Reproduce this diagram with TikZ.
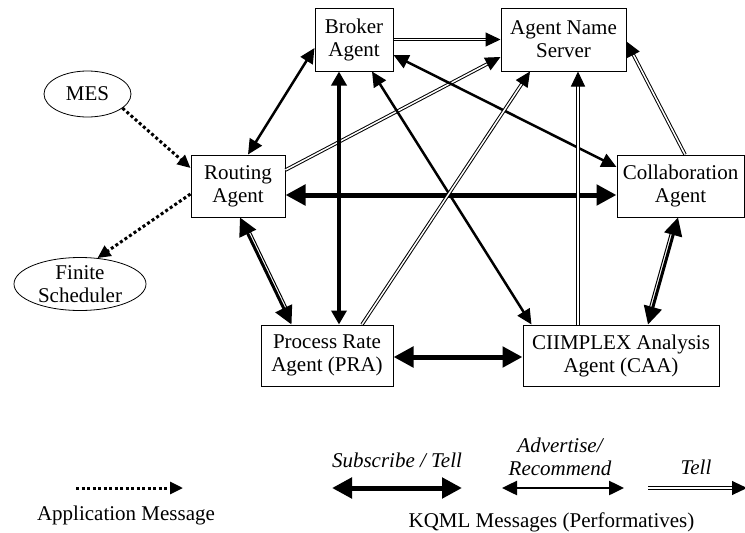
\documentclass[tikz,border=0pt]{standalone}
\usepackage{fontspec}
\setmainfont{Liberation Serif}
\usetikzlibrary{arrows.meta,calc,shapes.geometric}
\begin{document}
\begin{tikzpicture}[x=1pt,y=-1pt,
  txt/.style={font=\fontsize{21}{23}\selectfont},
  box/.style={txt,draw,line width=1pt,inner sep=0pt,align=center},
  oval/.style={txt,draw,ellipse,line width=0.8pt,inner xsep=0pt,inner ysep=-3pt,align=center},
  sub/.style={line width=5pt,{Triangle[length=20pt,width=20pt]}-{Triangle[length=20pt,width=20pt]}},
  adv/.style={line width=2.5pt,{Triangle[length=15pt,width=14pt]}-{Triangle[length=15pt,width=14pt]}},
  med/.style={line width=3.5pt,{Triangle[length=14pt,width=15pt]}-{Triangle[length=14pt,width=15pt]}},
  big/.style={line width=3pt,{Triangle[length=18pt,width=18pt]}-{Triangle[length=18pt,width=18pt]}},
  thinside/.style={line width=1pt,shorten <=14pt,shorten >=14pt},
  tell/.style={double,line width=1pt,double distance=1.5pt,-{Triangle[length=15pt,width=14pt]}},
  app/.style={line width=3pt,dash pattern=on 3pt off 2.5pt,-{Triangle[length=13pt,width=12pt]}},
  lbl/.style={txt,align=center,inner sep=0pt}
]
\useasboundingbox (0,0) rectangle (745,533);

% nodes
\node[box,minimum width=78pt,minimum height=63pt] (broker) at (354,39.5) {Broker\\Agent};
\node[box,minimum width=125pt,minimum height=63pt] (ans) at (563.5,39.5) {Agent Name\\Server};
\node[box,minimum width=94pt,minimum height=62pt] (routing) at (238,186) {Routing\\Agent};
\node[box,minimum width=127pt,minimum height=62pt] (collab) at (680.5,186) {Collaboration\\Agent};
\node[box,minimum width=132pt,minimum height=61pt] (pra) at (327,355.5) {Process Rate\\Agent (PRA)};
\node[box,minimum width=196pt,minimum height=61pt] (caa) at (621,355.5) {CIIMPLEX Analysis\\Agent (CAA)};
\node[oval,minimum width=87pt,minimum height=46pt] (mes) at (87.5,94) {MES};
\node[oval,minimum width=132pt,minimum height=53pt] (fs) at (80,284) {Finite\\Scheduler};

% application messages
\draw[app] (mes.-22) -- ($(routing.west)+(0,-18)$);
\draw[app] ($(routing.west)+(0,8)$) -- (fs.56);

% KQML messages
\draw[adv] ($(routing.north)+(10,0)$) -- ($(broker.west)+(0,8.5)$);
\draw[tell] (broker.east) -- (ans.west);
\draw[tell] ($(routing.east)+(0,-16)$) -- ($(ans.west)+(0,17.5)$);
\draw[sub] ($(routing.east)+(0,9)$) -- ($(collab.west)+(0,9)$);
\draw[med] ($(broker.south)+(-15,0)$) -- ($(pra.north)+(12,0)$);
\draw[adv] ($(broker.south)+(18,0)$) -- ($(caa.north west)+(9,0)$);
\draw[adv] ($(broker.east)+(0,15.5)$) -- ($(collab.west)+(0,-19)$);
\draw[tell] ($(pra.north)+(35,0)$) -- ($(ans.south)+(-33.5,0)$);
\draw[tell] ($(caa.north)+(-43,0)$) -- ($(ans.south)+(14.5,0)$);
\draw[tell] ($(collab.north)+(4.5,0)$) -- ($(ans.east)+(0,2)$);
\draw[sub] ($(pra.east)+(0,1.5)$) -- ($(caa.west)+(0,1.5)$);

% routing <-> PRA (combined)
\coordinate (rp1) at ($(routing.south)+(2,0)$);
\coordinate (rp2) at ($(pra.north west)+(31,0)$);
\draw[big] (rp1) -- (rp2);
\draw[thinside] ($(rp1)!3.2pt!90:(rp2)$) -- ($(rp2)!3.2pt!-90:(rp1)$);

% collaboration <-> CAA (combined)
\coordinate (cc1) at ($(collab.south)+(-2.5,0)$);
\coordinate (cc2) at ($(caa.north)+(27,0)$);
\draw[big] (cc1) -- (cc2);
\draw[thinside] ($(cc1)!3.2pt!-90:(cc2)$) -- ($(cc2)!3.2pt!90:(cc1)$);

% legend
\coordinate (la1) at (76,488);  \coordinate (la2) at (183,488);
\coordinate (ls1) at (332,488); \coordinate (ls2) at (462,488);
\coordinate (lv1) at (502,488); \coordinate (lv2) at (624,488);
\coordinate (lt1) at (648,488); \coordinate (lt2) at (747,488);
\draw[app] (la1) -- (la2);
\draw[sub] (ls1) -- (ls2);
\draw[adv] (lv1) -- (lv2);
\draw[tell] (lt1) -- (lt2);
\node[lbl] (lsub) at (397,460) {\itshape Subscribe / Tell};
\node[lbl] (ladv) at (560,457) {\itshape Advertise/\\\itshape Recommend};
\node[lbl] (ltell) at (696,467) {\itshape Tell};
\node[lbl] (lapp) at (126,515) {Application Message};
\node[lbl] (lkqml) at (551.5,522) {KQML Messages (Performatives)};
\end{tikzpicture}
\end{document}
